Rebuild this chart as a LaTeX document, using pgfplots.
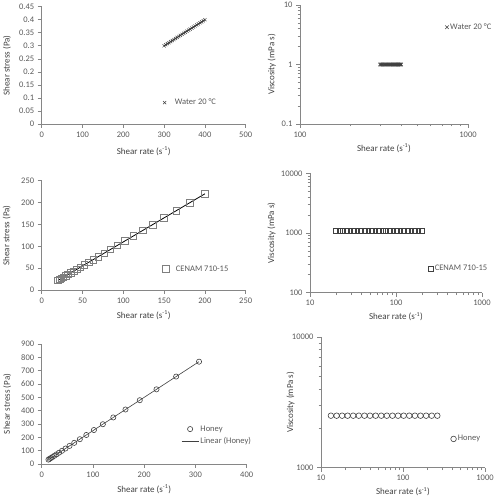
\documentclass[border=0pt]{standalone}
\usepackage{fontspec}
\setmainfont{Carlito}
\usepackage{pgfplots}
\pgfplotsset{compat=1.18}
\definecolor{txt}{HTML}{595959}
\definecolor{axc}{HTML}{868686}
\definecolor{mk}{HTML}{404040}
\definecolor{sq}{HTML}{7F7F7F}
\newcommand{\tf}{\fontsize{8.5}{10}\selectfont}
\newcommand{\lf}{\fontsize{9}{11}\selectfont}
\pgfplotsset{
  base/.style={scale only axis, anchor=south west,
    axis x line*=bottom, axis y line*=left,
    axis line style={draw=axc, line width=0.8pt, -},
    tick style={draw=axc, line width=0.6pt},
    major tick length=4pt, minor tick length=2.5pt, tick align=outside,
    ticklabel style={font=\tf, text=txt},
    label style={font=\lf, text=black!75},
    xlabel={Shear rate (s\textsuperscript{-1})},
    legend style={draw=none, fill=none, font=\tf, text=txt, inner sep=0pt,
      nodes={inner sep=1.5pt}, row sep=1.5pt},
    legend cell align=left, clip=false},
  narrowmark/.style={legend image code/.code={\draw[##1] plot coordinates {(0cm,0cm)};}},
  widemark/.style={legend image code/.code={\path (0cm,0cm) (0.6cm,0cm); \draw[##1] plot coordinates {(0.3cm,0cm)};}}
}
\begin{document}
\begin{tikzpicture}
\path[use as bounding box] (0,0) rectangle (493pt,500pt);
% Panel 1: water shear stress
\begin{axis}[base, at={(41.7pt,376pt)}, width=204pt, height=117.3pt,
  xmin=0, xmax=500, ymin=0, ymax=0.45,
  xtick={0,100,200,300,400,500}, xticklabels={0,100,200,300,400,500},
  ytick={0,0.05,0.1,0.15,0.2,0.25,0.3,0.35,0.4,0.45},
  yticklabels={0,0.05,0.1,0.15,0.2,0.25,0.3,0.35,0.4,0.45},
  ylabel={Shear stress (Pa)},
  xlabel style={at={(axis description cs:0.5,-0.23)}, anchor=center},
  ylabel style={at={(axis description cs:-0.17,0.5)}, anchor=center},
  legend style={at={(0.559,0.182)}, anchor=west}]
\addplot[only marks, mark=x, mark size=2.2pt, draw=mk, mark options={line width=0.5pt}, widemark] coordinates {
(300,0.300)(304,0.304)(308,0.308)(312,0.312)(316,0.316)(320,0.320)(324,0.324)(328,0.328)(332,0.332)(336,0.336)(340,0.340)(344,0.344)(348,0.348)(352,0.352)(356,0.356)(360,0.360)(364,0.364)(368,0.368)(372,0.372)(376,0.376)(380,0.380)(384,0.384)(388,0.388)(392,0.392)(396,0.396)(400,0.400)};
\addlegendentry{Water 20 °C}
\addplot[black, line width=0.8pt, forget plot] coordinates {(300,0.300)(400,0.400)};
\end{axis}
% Panel 2: water viscosity
\begin{axis}[base, at={(300pt,376pt)}, width=168pt, height=119pt,
  xmode=log, ymode=log, xmin=100, xmax=1000, ymin=0.1, ymax=10,
  xtick={100,1000}, xticklabels={100,1000},
  ytick={0.1,1,10}, yticklabels={0.1,1,10},
  ylabel={Viscosity (mPa s)},
  xlabel style={at={(axis description cs:0.5,-0.202)}, anchor=center},
  ylabel style={at={(axis description cs:-0.168,0.5)}, anchor=center},
  legend style={at={(0.863,0.813)}, anchor=west}]
\addplot[only marks, mark=x, mark size=2.5pt, draw=mk, mark options={line width=0.6pt}, narrowmark] coordinates {
(300,1.0)(304,1.0)(308,1.0)(312,1.0)(316,1.0)(320,1.0)(324,1.0)(328,1.0)(332,1.0)(336,1.0)(340,1.0)(344,1.0)(348,1.0)(352,1.0)(356,1.0)(360,1.0)(364,1.0)(368,1.0)(372,1.0)(376,1.0)(380,1.0)(384,1.0)(388,1.0)(392,1.0)(396,1.0)(400,1.0)};
\addlegendentry{Water 20 °C}
\end{axis}
% Panel 3: CENAM shear stress
\begin{axis}[base, at={(41.7pt,210pt)}, width=204pt, height=109.3pt,
  xmin=0, xmax=250, ymin=0, ymax=250,
  xtick={0,50,100,150,200,250}, xticklabels={0,50,100,150,200,250},
  ytick={0,50,100,150,200,250}, yticklabels={0,50,100,150,200,250},
  ylabel={Shear stress (Pa)},
  xlabel style={at={(axis description cs:0.5,-0.229)}, anchor=center},
  ylabel style={at={(axis description cs:-0.172,0.5)}, anchor=center},
  legend style={at={(0.564,0.192)}, anchor=west}]
\addplot[only marks, mark=square, mark size=3.3pt, draw=sq, mark options={line width=0.6pt}, widemark] coordinates {
(20,22.0)(22.0,24.2)(24.2,26.6)(26.7,29.4)(29.4,32.3)(32.3,35.5)(35.6,39.2)(39.2,43.1)(43.1,47.4)(47.5,52.3)(52.2,57.4)(57.5,63.3)(63.2,69.5)(69.6,76.6)(76.6,84.3)(84.3,92.7)(92.8,102.1)(102.1,112.3)(112.4,123.6)(123.7,136.1)(136.1,149.7)(149.8,164.8)(164.9,181.4)(181.5,199.7)(200,220.0)};
\addlegendentry{CENAM 710-15}
\addplot[black, line width=0.8pt, forget plot] coordinates {(20,22.0)(200,220.0)};
\end{axis}
% Panel 4: CENAM viscosity
\begin{axis}[base, at={(310pt,207.3pt)}, width=172pt, height=119.4pt,
  xmode=log, ymode=log, xmin=10, xmax=1000, ymin=100, ymax=10000,
  xtick={10,100,1000}, xticklabels={10,100,1000},
  ytick={100,1000,10000}, yticklabels={100,1000,10000},
  ylabel={Viscosity (mPa s)},
  xlabel style={at={(axis description cs:0.5,-0.201)}, anchor=center},
  ylabel style={at={(axis description cs:-0.223,0.5)}, anchor=center},
  legend style={at={(0.689,0.2)}, anchor=west}]
\addplot[only marks, mark=square, mark size=2.3pt, draw=mk, mark options={line width=0.5pt}, narrowmark] coordinates {
(20,1100)(22.0,1100)(24.2,1100)(26.7,1100)(29.4,1100)(32.3,1100)(35.6,1100)(39.2,1100)(43.1,1100)(47.5,1100)(52.2,1100)(57.5,1100)(63.2,1100)(69.6,1100)(76.6,1100)(84.3,1100)(92.8,1100)(102.1,1100)(112.4,1100)(123.7,1100)(136.1,1100)(149.8,1100)(164.9,1100)(181.5,1100)(200,1100)};
\addlegendentry{CENAM 710-15}
\end{axis}
% Panel 5: honey shear stress
\begin{axis}[base, at={(41.7pt,36pt)}, width=205pt, height=120pt,
  xmin=0, xmax=400, ymin=0, ymax=900,
  xtick={0,100,200,300,400}, xticklabels={0,100,200,300,400},
  ytick={0,100,200,300,400,500,600,700,800,900},
  yticklabels={0,100,200,300,400,500,600,700,800,900},
  ylabel={Shear stress (Pa)},
  xlabel style={at={(axis description cs:0.5,-0.208)}, anchor=center},
  ylabel style={at={(axis description cs:-0.168,0.5)}, anchor=center},
  legend style={at={(0.68,0.24)}, anchor=west}]
\addplot[only marks, mark=o, mark size=2.6pt, draw=mk, mark options={line width=0.6pt}, widemark] coordinates {
(13.2,33.0)(15.5,38.75)(18.1,45.25)(21.1,52.75)(24.7,61.75)(28.9,72.25)(33.9,84.75)(39.6,99.0)(46.4,116.0)(54.3,135.75)(63.5,158.75)(74.4,186.0)(87.1,217.75)(101.9,254.75)(119.3,298.25)(139.7,349.25)(163.5,408.75)(191.4,478.5)(224.0,560.0)(262.3,655.75)(307.0,767.5)};
\addlegendentry{Honey}
\addplot[mk, line width=0.6pt] coordinates {(13.2,33.0)(307.0,767.5)};
\addlegendentry{Linear (Honey)}
\end{axis}
% Panel 6: honey viscosity
\begin{axis}[base, at={(321pt,32.3pt)}, width=164pt, height=130.7pt,
  xmode=log, ymode=log, xmin=10, xmax=1000, ymin=1000, ymax=10000,
  xtick={10,100,1000}, xticklabels={10,100,1000},
  ytick={1000,10000}, yticklabels={1000,10000},
  ylabel={Viscosity (mPa s)},
  xlabel style={at={(axis description cs:0.5,-0.184)}, anchor=center},
  ylabel style={at={(axis description cs:-0.185,0.5)}, anchor=center},
  legend style={at={(0.79,0.22)}, anchor=west}]
\addplot[only marks, mark=o, mark size=2.8pt, draw=mk, mark options={line width=0.6pt}, narrowmark] coordinates {
(13.2,2500)(15.5,2500)(18.1,2500)(21.1,2500)(24.7,2500)(28.9,2500)(33.9,2500)(39.6,2500)(46.4,2500)(54.3,2500)(63.5,2500)(74.4,2500)(87.1,2500)(101.9,2500)(119.3,2500)(139.7,2500)(163.5,2500)(191.4,2500)(224.0,2500)(262.3,2500)};
\addlegendentry{Honey}
\end{axis}
\end{tikzpicture}
\end{document}
